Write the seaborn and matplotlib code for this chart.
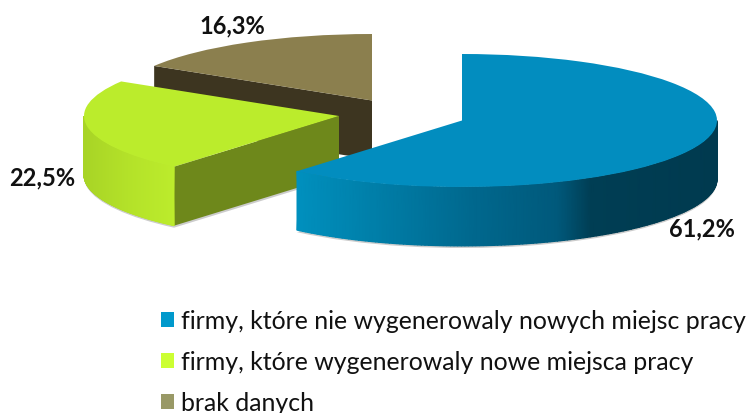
import numpy as np
import matplotlib
matplotlib.use("Agg")
import matplotlib.pyplot as plt
from matplotlib.colors import LinearSegmentedColormap
from matplotlib.patches import Patch
import seaborn as sns

# data
categories = ["firmy, które nie wygenerowaly nowych miejsc pracy",
              "firmy, które wygenerowaly nowe miejsca pracy",
              "brak danych"]
values = [61.2, 22.5, 16.3]
value_labels = ["61,2%", "22,5%", "16,3%"]

# style
W, H = 749, 414
RX, RY, DEPTH = 255, 66.5, 59
K = RX / RY
centers_px = [(462, 121.5), (339, 117), (372, 101.5)]
top_colors = ["#028DBF", "#BBEC2C", "#8B7F4E"]
face_colors = [None, "#6E881B", "#3D3520"]
legend_colors = ["#0099CC", "#CCFF33", "#999966"]
label_pos = [(702, 229), (42, 178), (232, 26)]

sns.set_theme(style="white")
plt.rcParams["font.family"] = ["Lato", "DejaVu Sans"]

fig = plt.figure(figsize=(W / 100, H / 100), dpi=100)
ax = fig.add_axes([0, 0, 1, 1])

edges = np.concatenate([[0], np.cumsum(values)]) / np.sum(values) * 2 * np.pi


def Y(py):
    return (H - py) * K


def one_wedge(i, center_px, dy, color, alpha=1.0, z=1):
    cx, cy = center_px
    wedges, _ = ax.pie(values, center=(cx, Y(cy + dy)), radius=RX, startangle=90,
                       counterclock=False, colors=[color] * 3, frame=False)
    for j, w in enumerate(wedges):
        if j == i:
            w.set_zorder(z)
            w.set_alpha(alpha)
            w.set_linewidth(0)
        else:
            w.remove()


def rim(i, t0, t1, stops, z):
    cx, cy = centers_px[i]
    t = np.linspace(t0, t1, 160)
    x = cx + RX * np.sin(t)
    top = Y(cy) + RX * np.cos(t)
    bot = Y(cy + DEPTH) + RX * np.cos(t)
    X = np.vstack([x, x])
    YY = np.vstack([top, bot])
    cmap = LinearSegmentedColormap.from_list("rim", stops)
    frac = (x - x.min()) / (x.max() - x.min())
    ax.pcolormesh(X, YY, np.vstack([frac, frac]), cmap=cmap, shading="gouraud",
                  vmin=0, vmax=1, zorder=z)


def cut_face(i, t, color, z):
    cx, cy = centers_px[i]
    x = [cx, cx + RX * np.sin(t), cx + RX * np.sin(t), cx]
    y0 = Y(cy)
    y1 = Y(cy + DEPTH)
    y = [y0, y0 + RX * np.cos(t), y1 + RX * np.cos(t), y1]
    ax.fill(x, y, color=color, lw=0, zorder=z)


# brown slice (back)
cut_face(2, edges[2], face_colors[2], 2)
one_wedge(2, centers_px[2], 0, top_colors[2], z=3)

# green slice
one_wedge(1, centers_px[1], DEPTH + 2, "#AAAAAA", alpha=0.6, z=4)
cut_face(1, edges[1], face_colors[1], 5)
rim(1, edges[1], 1.5 * np.pi, ["#A8D426", "#B4E229", "#BCEC2C"], 5)
one_wedge(1, centers_px[1], 0, top_colors[1], z=6)

# blue slice (front)
one_wedge(0, centers_px[0], DEPTH + 2, "#AAAAAA", alpha=0.6, z=7)
rim(0, 0.5 * np.pi, edges[1],
    [(0.0, "#0090BE"), (0.18, "#007FA9"), (0.42, "#00688E"), (0.62, "#00597B"),
     (0.70, "#003E54"), (1.0, "#003A4F")], 8)
one_wedge(0, centers_px[0], 0, top_colors[0], z=9)

ax.set_aspect("auto")
ax.set_xlim(0, W)
ax.set_ylim(0, H * K)
ax.axis("off")

for (px, py), s in zip(label_pos, value_labels):
    ax.text(px, Y(py), s, ha="center", va="center", fontsize=17,
            fontweight="bold", color="#111111", zorder=20)

handles = [Patch(facecolor=c, edgecolor="none") for c in legend_colors]
ax.legend(handles, categories, loc="upper left",
          bbox_to_anchor=(161 / W, 1 - 310 / H), frameon=False, fontsize=17.9,
          handlelength=0.54, handleheight=0.54, handletextpad=0.26,
          labelspacing=0.73, borderpad=0, borderaxespad=0, labelcolor="#111111")

fig.savefig("out.png", dpi=100)
